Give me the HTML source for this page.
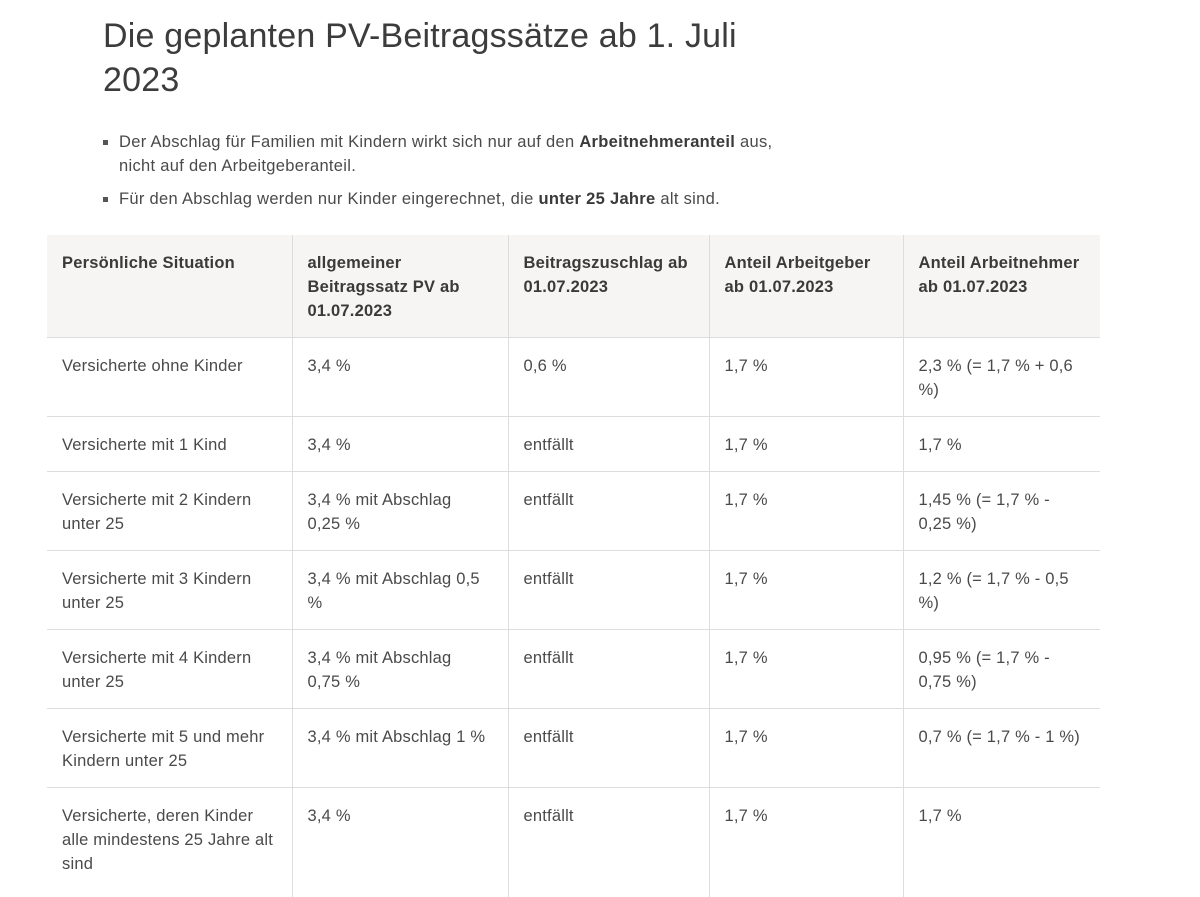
<!DOCTYPE html>
<html><head><meta charset="utf-8"><style>
body{margin:0;background:#fff;font-family:"Liberation Sans",sans-serif;color:#4a4a4a;width:1200px;height:891px;overflow:hidden;position:relative}
h1{position:absolute;left:103px;top:14px;margin:0;font-weight:normal;font-size:34px;line-height:44px;color:#3c3c3c;letter-spacing:0.2px}
ul{position:absolute;left:103px;top:130px;margin:0;padding:0;list-style:none;font-size:16.5px;line-height:24px;letter-spacing:0.3px}
li{position:relative;padding-left:16px;margin-bottom:9px}
li:before{content:"";position:absolute;left:0;top:10px;width:5px;height:5px;background:#555}
b{color:#3a3a3a}
table{position:absolute;left:47px;top:235px;border-collapse:collapse;font-size:16.5px;line-height:24px;letter-spacing:0.2px}
td,th{border:1px solid #ddd;vertical-align:top;text-align:left;padding:16px 15px 0 15px;box-sizing:border-box;white-space:nowrap}
tr td:first-child,tr th:first-child{border-left:none}
tr td:last-child,tr th:last-child{border-right:none}
th{background:#f6f5f3;font-weight:bold;color:#3a3a3a;border-top:none}
</style></head><body>
<h1>Die geplanten PV-Beitragssätze ab 1. Juli<br>2023</h1>
<ul>
<li>Der Abschlag für Familien mit Kindern wirkt sich nur auf den <b>Arbeitnehmeranteil</b> aus,<br>nicht auf den Arbeitgeberanteil.</li>
<li>Für den Abschlag werden nur Kinder eingerechnet, die <b>unter 25 Jahre</b> alt sind.</li>
</ul>
<table>
<tr style="height:102px"><th style="width:245px">Persönliche Situation</th><th style="width:216px">allgemeiner<br>Beitragssatz PV ab<br>01.07.2023</th><th style="width:201px">Beitragszuschlag ab<br>01.07.2023</th><th style="width:194px">Anteil Arbeitgeber<br>ab 01.07.2023</th><th style="width:197px">Anteil Arbeitnehmer<br>ab 01.07.2023</th></tr>
<tr style="height:79px"><td>Versicherte ohne Kinder</td><td>3,4 %</td><td>0,6 %</td><td>1,7 %</td><td>2,3 % (= 1,7 % + 0,6<br>%)</td></tr>
<tr style="height:55px"><td>Versicherte mit 1 Kind</td><td>3,4 %</td><td>entfällt</td><td>1,7 %</td><td>1,7 %</td></tr>
<tr style="height:79px"><td>Versicherte mit 2 Kindern<br>unter 25</td><td>3,4 % mit Abschlag<br>0,25 %</td><td>entfällt</td><td>1,7 %</td><td>1,45 % (= 1,7 % -<br>0,25 %)</td></tr>
<tr style="height:79px"><td>Versicherte mit 3 Kindern<br>unter 25</td><td>3,4 % mit Abschlag 0,5<br>%</td><td>entfällt</td><td>1,7 %</td><td>1,2 % (= 1,7 % - 0,5<br>%)</td></tr>
<tr style="height:79px"><td>Versicherte mit 4 Kindern<br>unter 25</td><td>3,4 % mit Abschlag<br>0,75 %</td><td>entfällt</td><td>1,7 %</td><td>0,95 % (= 1,7 % -<br>0,75 %)</td></tr>
<tr style="height:79px"><td>Versicherte mit 5 und mehr<br>Kindern unter 25</td><td>3,4 % mit Abschlag 1 %</td><td>entfällt</td><td>1,7 %</td><td>0,7 % (= 1,7 % - 1 %)</td></tr>
<tr style="height:110px"><td style="border-bottom:none">Versicherte, deren Kinder<br>alle mindestens 25 Jahre alt<br>sind</td><td style="border-bottom:none">3,4 %</td><td style="border-bottom:none">entfällt</td><td style="border-bottom:none">1,7 %</td><td style="border-bottom:none">1,7 %</td></tr>
</table>
</body></html>
